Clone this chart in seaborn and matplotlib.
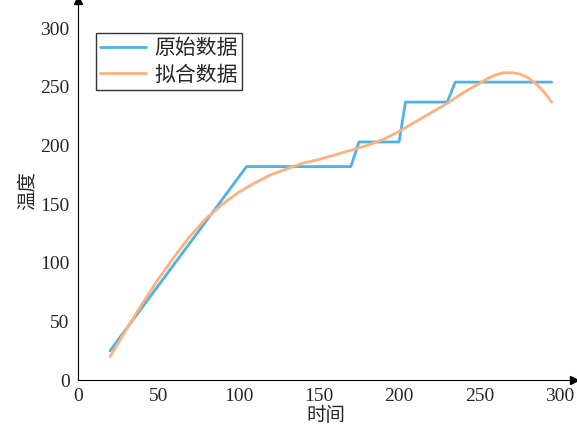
import numpy as np
import pandas as pd
import seaborn as sns
import matplotlib.pyplot as plt

# 原始数据 (阶梯)
raw_x = [20, 105, 170, 175, 200, 204, 230, 235, 295]
raw_y = [25, 182, 182, 203, 203, 237, 237, 254, 254]
# 拟合数据
fit_x = [20, 30, 40, 50, 60, 70, 80, 90, 100, 110, 120, 130, 140, 150, 160, 170, 180, 190,
         200, 210, 220, 230, 240, 250, 255, 260, 265, 270, 275, 280, 285, 290, 295]
fit_y = [20, 43, 65, 86, 105, 123, 138, 150, 160, 168, 175, 180, 185, 188, 192, 196, 200, 205,
         212, 220, 228, 236, 245, 253, 257, 260, 262, 262, 261, 258, 253, 246, 237]

sns.set_style("white")
plt.rcParams['font.family'] = ['Noto Sans CJK SC', 'DejaVu Sans']

fig = plt.figure(figsize=(5.77, 4.42), dpi=100)
ax = fig.add_axes([0.135, 0.14, 0.86, 0.86])

raw = pd.DataFrame({"x": raw_x, "y": raw_y})
fit = pd.DataFrame({"x": fit_x, "y": fit_y})
sns.lineplot(data=raw, x="x", y="y", ax=ax, color="#4db3e6", lw=2, label="原始数据", sort=False)
sns.lineplot(data=fit, x="x", y="y", ax=ax, color="#ffb07c", lw=2, label="拟合数据", sort=False)

ax.set_xlim(0, 309)
ax.set_ylim(0, 324)
ax.set_xticks([0, 50, 100, 150, 200, 250, 300])
ax.set_yticks([0, 50, 100, 150, 200, 250, 300])
for lab in ax.get_xticklabels() + ax.get_yticklabels():
    lab.set_family("Liberation Serif")
    lab.set_fontsize(14)
ax.set_xlabel("时间", fontsize=14, labelpad=0)
ax.set_ylabel("温度", fontsize=14, labelpad=2)
for s in ["top", "right"]:
    ax.spines[s].set_visible(False)
for s in ["left", "bottom"]:
    ax.spines[s].set_color("black")
ax.plot(1, 0, ">k", transform=ax.transAxes, clip_on=False, ms=6)
ax.plot(0, 1, "^k", transform=ax.transAxes, clip_on=False, ms=6)
ax.tick_params(axis="both", length=0, pad=6)

leg = ax.legend(loc="upper left", bbox_to_anchor=(0.015, 0.94), fontsize=15, frameon=True,
                fancybox=False, edgecolor="black", handlelength=2.2, borderpad=0.2, labelspacing=0.2,
                handletextpad=0.4)

fig.savefig("out.png", dpi=100)
